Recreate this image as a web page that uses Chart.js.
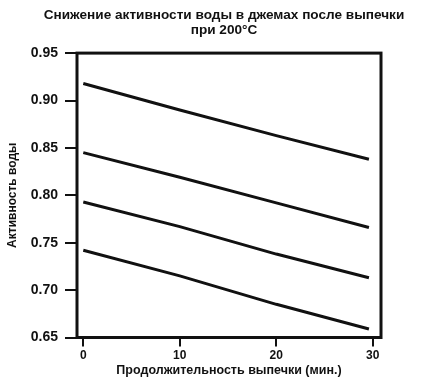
<!DOCTYPE html>
<html>
<head>
<meta charset="utf-8">
<script src="https://cdn.jsdelivr.net/npm/chart.js@4"></script>
<style>
  html, body { margin: 0; padding: 0; background: #fff; }
  #wrap { width: 424px; height: 388px; }
</style>
</head>
<body>
<div id="wrap"><canvas id="c" width="424" height="388"></canvas></div>
<script>
const titleLines = ["Снижение активности воды в джемах после выпечки", "при 200°C"];
const xTitle = "Продолжительность выпечки (мин.)";
const yTitle = "Активность воды";
const bakeMinutes = [0, 10, 20, 29.6];
const series1 = [0.918, 0.890, 0.863, 0.838];
const series2 = [0.845, 0.819, 0.792, 0.766];
const series3 = [0.793, 0.767, 0.738, 0.713];
const series4 = [0.742, 0.715, 0.685, 0.659];
const xTicks = [0, 10, 20, 30];
const yTicks = [0.65, 0.70, 0.75, 0.80, 0.85, 0.90, 0.95];

const FONT = "'Liberation Sans', Arial, Helvetica, sans-serif";
const INK = '#111';

function toPoints(vals) {
  return bakeMinutes.map((m, i) => ({ x: m, y: vals[i] }));
}
const allSeries = [series1, series2, series3, series4];

const framePlugin = {
  id: 'frame',
  afterLayout(chart) {
    const t = chart.titleBlock;
    if (t) { t.left = 22; t.right = 426; t.width = t.right - t.left; }
  },
  afterDatasetsDraw(chart) {
    const { ctx, chartArea: a } = chart;
    ctx.save();
    ctx.strokeStyle = INK;
    ctx.lineWidth = 3;
    ctx.strokeRect(a.left, a.top, a.right - a.left, a.bottom - a.top);
    ctx.restore();
  }
};

new Chart(document.getElementById('c'), {
  type: 'line',
  data: {
    datasets: allSeries.map((s, i) => ({
      label: 'series' + (i + 1),
      data: toPoints(s),
      borderColor: INK,
      borderWidth: 3,
      pointRadius: 0,
      tension: 0,
      fill: false
    }))
  },
  options: {
    responsive: false,
    animation: false,
    devicePixelRatio: 1,
    layout: { padding: { top: 0, right: 43, bottom: 0, left: 0 } },
    plugins: {
      legend: { display: false },
      tooltip: { enabled: false },
      title: {
        display: true,
        fullSize: false,
        text: titleLines,
        color: INK,
        font: { family: FONT, size: 13.6, weight: 'bold', lineHeight: 1.07 },
        padding: { top: 8, bottom: 16 }
      }
    },
    scales: {
      x: {
        type: 'linear',
        min: -0.65,
        max: 30.85,
        afterBuildTicks(scale) { scale.ticks = xTicks.map(v => ({ value: v })); },
        afterFit(scale) { scale.height = 50.5; },
        grid: { drawOnChartArea: false, drawTicks: true, tickLength: 9, color: INK, lineWidth: 2 },
        border: { display: false },
        ticks: {
          color: INK,
          padding: 2,
          maxRotation: 0,
          font: { family: FONT, size: 12, weight: 'bold' },
          callback: v => String(v)
        },
        title: {
          display: true,
          text: xTitle,
          color: INK,
          font: { family: FONT, size: 12.5, weight: 'bold', lineHeight: 1.2 },
          padding: { top: 0, bottom: 10 }
        }
      },
      y: {
        type: 'linear',
        min: 0.65,
        max: 0.95,
        afterBuildTicks(scale) { scale.ticks = yTicks.map(v => ({ value: v })); },
        afterFit(scale) { scale.width = 77; },
        grid: { drawOnChartArea: false, drawTicks: true, tickLength: 12, color: INK, lineWidth: 2 },
        border: { display: false },
        ticks: {
          color: INK,
          padding: 7,
          font: { family: FONT, size: 14, weight: 'bold' },
          callback: v => Number(v).toFixed(2)
        },
        title: {
          display: true,
          text: yTitle,
          color: INK,
          font: { family: FONT, size: 12, weight: 'bold', lineHeight: 1.2 },
          padding: { top: 5, bottom: 0 }
        }
      }
    }
  },
  plugins: [framePlugin]
});
</script>
</body>
</html>
